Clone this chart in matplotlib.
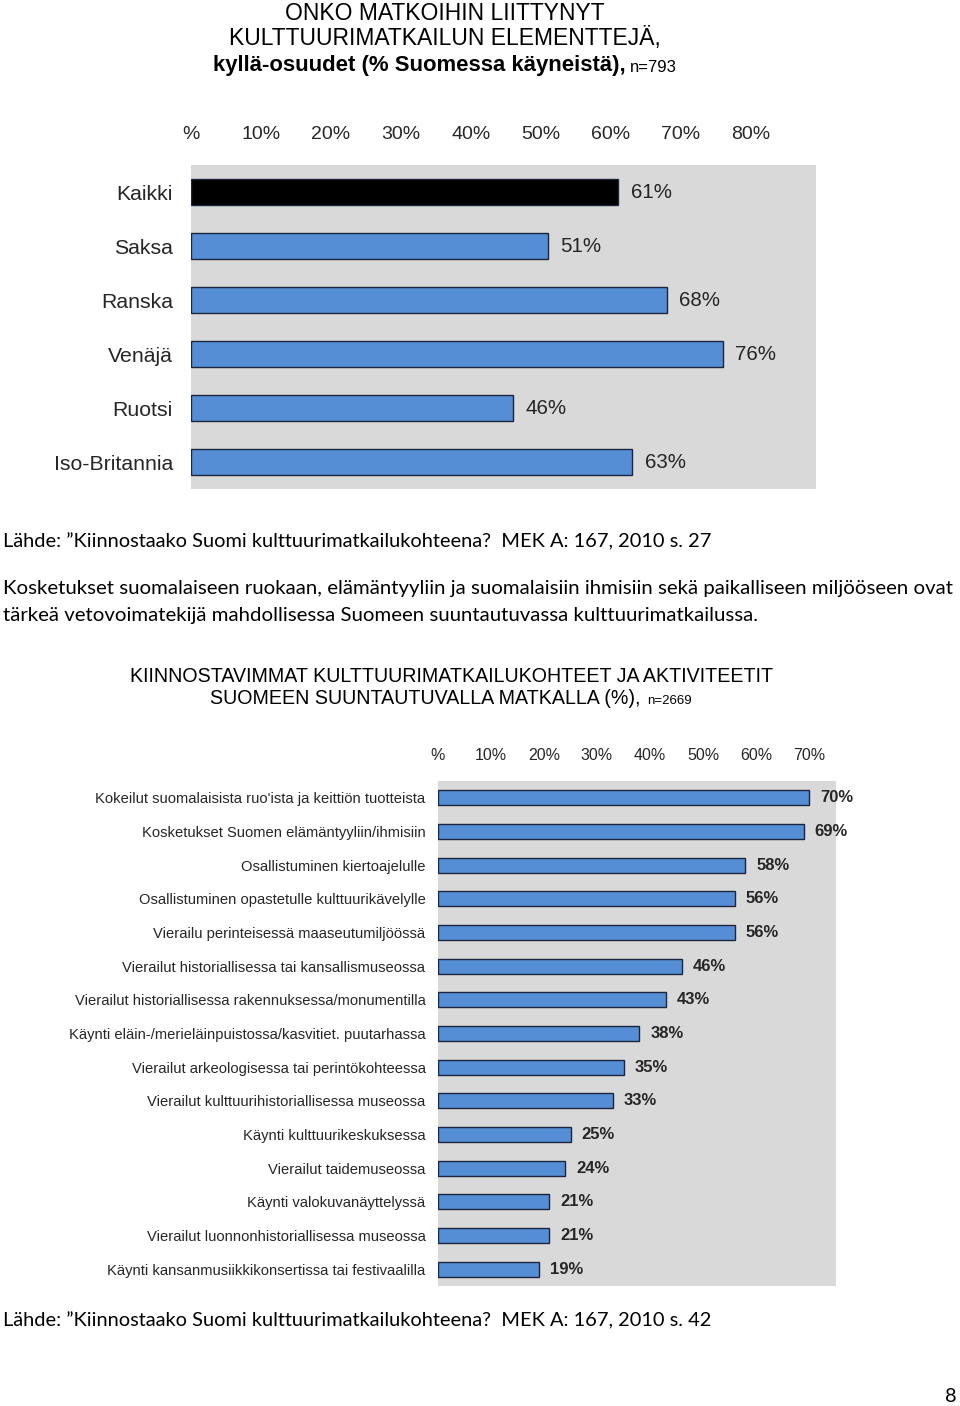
import matplotlib
matplotlib.use('Agg')
import matplotlib.pyplot as plt
from matplotlib import font_manager

# --- data -------------------------------------------------------------
countries = ['Kaikki', 'Saksa', 'Ranska', 'Venäjä', 'Ruotsi', 'Iso-Britannia']
country_share = [61, 51, 68, 76, 46, 63]
country_ticks = [0, 10, 20, 30, 40, 50, 60, 70, 80]
country_tick_labels = ['%', '10%', '20%', '30%', '40%', '50%', '60%', '70%', '80%']

activities = [
    "Kokeilut suomalaisista ruo'ista ja keittiön tuotteista",
    "Kosketukset Suomen elämäntyyliin/ihmisiin",
    "Osallistuminen kiertoajelulle",
    "Osallistuminen opastetulle kulttuurikävelylle",
    "Vierailu perinteisessä maaseutumiljöössä",
    "Vierailut historiallisessa tai kansallismuseossa",
    "Vierailut historiallisessa rakennuksessa/monumentilla",
    "Käynti eläin-/merieläinpuistossa/kasvitiet. puutarhassa",
    "Vierailut arkeologisessa tai perintökohteessa",
    "Vierailut kulttuurihistoriallisessa museossa",
    "Käynti kulttuurikeskuksessa",
    "Vierailut taidemuseossa",
    "Käynti valokuvanäyttelyssä",
    "Vierailut luonnonhistoriallisessa museossa",
    "Käynti kansanmusiikkikonsertissa tai festivaalilla",
]
activity_share = [70, 69, 58, 56, 56, 46, 43, 38, 35, 33, 25, 24, 21, 21, 19]
activity_ticks = [0, 10, 20, 30, 40, 50, 60, 70]
activity_tick_labels = ['%', '10%', '20%', '30%', '40%', '50%', '60%', '70%']

source1 = "Lähde: \u201dKiinnostaako Suomi kulttuurimatkailukohteena?  MEK A: 167, 2010 s. 27"
source2 = "Lähde: \u201dKiinnostaako Suomi kulttuurimatkailukohteena?  MEK A: 167, 2010 s. 42"
paragraph = ["Kosketukset suomalaiseen ruokaan, elämäntyyliin ja suomalaisiin ihmisiin sekä paikalliseen miljööseen ovat",
             "tärkeä vetovoimatekijä mahdollisessa Suomeen suuntautuvassa kulttuurimatkailussa."]

# --- styling ----------------------------------------------------------
W, H = 960, 1406
SANS = 'Liberation Sans'
names = set(f.name for f in font_manager.fontManager.ttflist)
if 'Liberation Sans Narrow' in names:
    NARROW, narrow_k = 'Liberation Sans Narrow', 1.0
else:
    NARROW, narrow_k = SANS, 0.82
BODY = 'Lato'
BLUE = '#558ed5'
EDGE = '#1c2540'
GRAY = '#d9d9d9'
TXT = '#262626'

plt.rcParams['font.family'] = SANS


def fx(px):
    return px / W


def fy(py):
    return 1 - py / H


def make_axes(fig, left, top, right, bottom):
    return fig.add_axes([fx(left), fy(bottom), (right - left) / W, (bottom - top) / H])


def bar_panel(ax, labels, values, colors, bar_h, xmax, ticks, tick_labels,
              tick_size, tick_pad, lab_size, lab_pad, val_size, val_weight, val_off):
    n = len(labels)
    ax.set_facecolor(GRAY)
    ax.barh(range(n), values, height=bar_h, color=colors, edgecolor=EDGE, linewidth=1)
    for i, v in enumerate(values):
        ax.annotate('%d%%' % v, (v, i), xytext=(val_off, 0), textcoords='offset points',
                    ha='left', va='center', fontsize=val_size, fontweight=val_weight, color=TXT)
    ax.set_xlim(0, xmax)
    ax.set_ylim(n - 0.5, -0.5)
    ax.xaxis.tick_top()
    ax.set_xticks(ticks)
    ax.set_xticklabels(tick_labels, fontsize=tick_size, color=TXT)
    ax.set_yticks(range(n))
    ax.set_yticklabels(labels, fontsize=lab_size, color=TXT)
    ax.tick_params(axis='x', length=0, pad=tick_pad)
    ax.tick_params(axis='y', length=0, pad=lab_pad)
    for s in ax.spines.values():
        s.set_visible(False)


fig = plt.figure(figsize=(W / 100, H / 100), dpi=100)
fig.patch.set_facecolor('white')

# --- chart 1 ----------------------------------------------------------
cx1 = fx(445)
fig.text(cx1, fy(13), 'ONKO MATKOIHIN LIITTYNYT', ha='center', va='center', fontsize=16.5, color='black')
fig.text(cx1, fy(39), 'KULTTUURIMATKAILUN ELEMENTTEJÄ,', ha='center', va='center', fontsize=16.5, color='black')
fig.text(fx(626), fy(66), 'kyllä-osuudet (% Suomessa käyneistä),', ha='right', va='center',
         fontsize=15.9, fontweight='bold', color='black')
fig.text(fx(630), fy(67), 'n=793', ha='left', va='center', fontsize=12, color='black')

ax1 = make_axes(fig, 191, 165, 816, 489)
colors1 = ['black'] + [BLUE] * (len(countries) - 1)
bar_panel(ax1, countries, country_share, colors1, 0.47, (816 - 191) / 7.0,
          country_ticks, country_tick_labels, 14, 16, 15.3, 13, 14.8, 'normal', 9)

# --- text between -----------------------------------------------------
fig.text(fx(3), fy(542), source1, ha='left', va='center', fontsize=14.4, family=BODY, color='black')
fig.text(fx(3), fy(588), paragraph[0], ha='left', va='center', fontsize=14.7, family=BODY, color='black')
fig.text(fx(3), fy(615), paragraph[1], ha='left', va='center', fontsize=14.7, family=BODY, color='black')

# --- chart 2 ----------------------------------------------------------
cx2 = fx(452)
fig.text(cx2, fy(677), 'KIINNOSTAVIMMAT KULTTUURIMATKAILUKOHTEET JA AKTIVITEETIT', ha='center', va='center',
         fontsize=17.2 * narrow_k, family=NARROW, color='black')
fig.text(fx(641), fy(699), 'SUOMEEN SUUNTAUTUVALLA MATKALLA (%),', ha='right', va='center',
         fontsize=17.2 * narrow_k, family=NARROW, color='black')
fig.text(fx(647), fy(701), 'n=2669', ha='left', va='center', fontsize=9.5, family=NARROW, color='black')

ax2 = make_axes(fig, 438, 781, 836, 1286)
bar_panel(ax2, activities, activity_share, BLUE, 0.44, (836 - 438) / 5.3,
          activity_ticks, activity_tick_labels, 11.5, 13, 10.6, 9, 12, 'bold', 8)

fig.text(fx(3), fy(1321), source2, ha='left', va='center', fontsize=14.4, family=BODY, color='black')
fig.text(fx(957), fy(1397), '8', ha='right', va='center', fontsize=14.4, family=BODY, color='black')

fig.savefig('out.png', dpi=100, facecolor='white')
